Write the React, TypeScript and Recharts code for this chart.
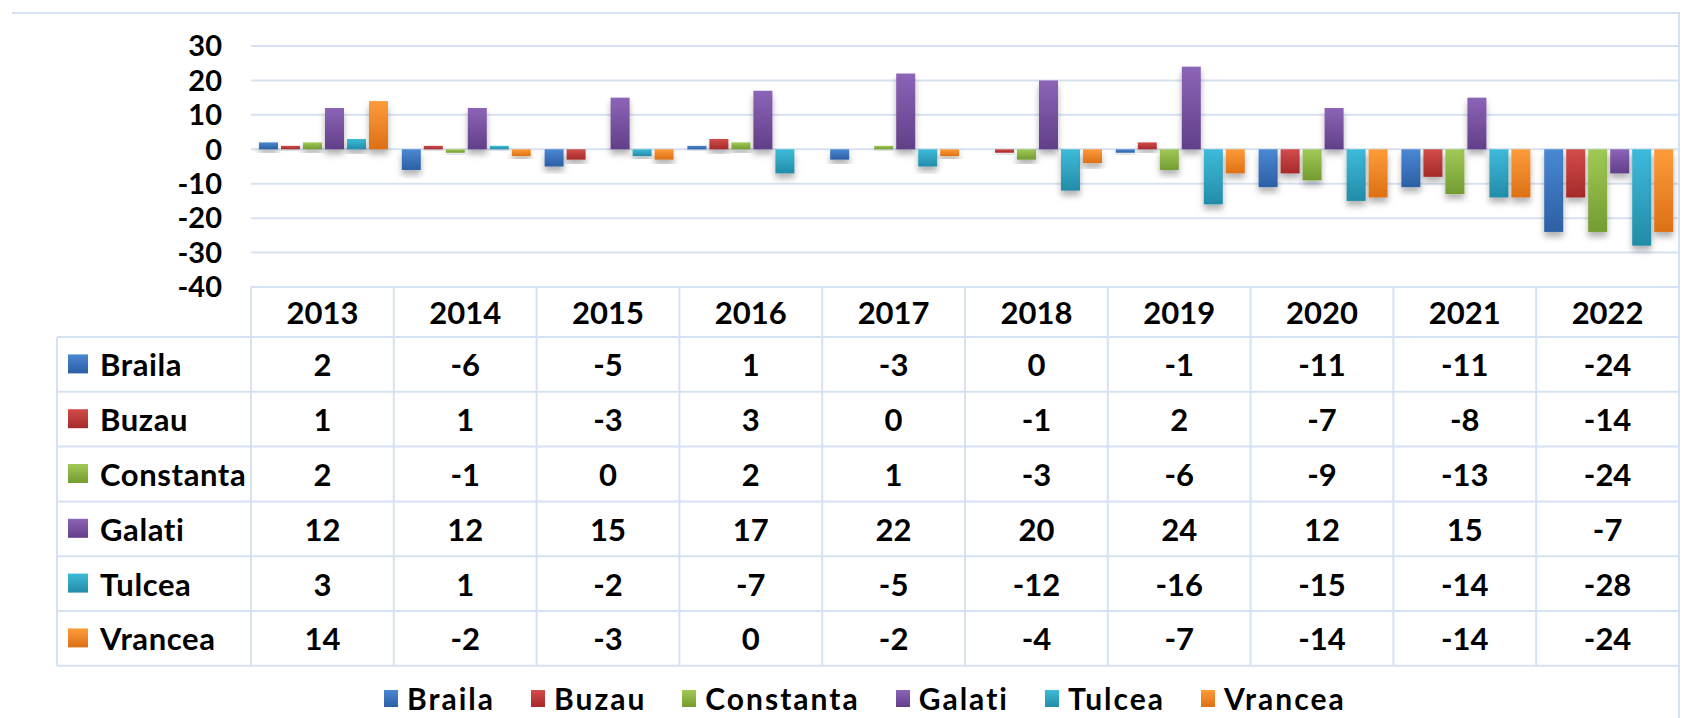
import React from 'react';
import { Bar, BarChart, CartesianGrid, Legend, XAxis, YAxis } from 'recharts';

const YEARS = ['2013', '2014', '2015', '2016', '2017', '2018', '2019', '2020', '2021', '2022'];

const BRAILA = [2, -6, -5, 1, -3, 0, -1, -11, -11, -24];
const BUZAU = [1, 1, -3, 3, 0, -1, 2, -7, -8, -14];
const CONSTANTA = [2, -1, 0, 2, 1, -3, -6, -9, -13, -24];
const GALATI = [12, 12, 15, 17, 22, 20, 24, 12, 15, -7];
const TULCEA = [3, 1, -2, -7, -5, -12, -16, -15, -14, -28];
const VRANCEA = [14, -2, -3, 0, -2, -4, -7, -14, -14, -24];

const Y_TICKS = [30, 20, 10, 0, -10, -20, -30, -40];

const SERIES = [
  { key: 'Braila', values: BRAILA, light: '#4a88d3', dark: '#2c5fa4' },
  { key: 'Buzau', values: BUZAU, light: '#d24c4a', dark: '#a52a2a' },
  { key: 'Constanta', values: CONSTANTA, light: '#a0c955', dark: '#739c31' },
  { key: 'Galati', values: GALATI, light: '#8c64b8', dark: '#623f88' },
  { key: 'Tulcea', values: TULCEA, light: '#3dbbd9', dark: '#238ca8' },
  { key: 'Vrancea', values: VRANCEA, light: '#fd9c3a', dark: '#dc7016' },
];

const chartData = YEARS.map((year, i) => {
  const row: Record<string, string | number> = { year };
  SERIES.forEach((s) => {
    row[s.key] = s.values[i];
  });
  return row;
});

const FONT = "Lato, 'Open Sans', sans-serif";
const LINE = '#d6e2f1';
const HEADER_H = 50;
const ROW_H = 54.8;
const TABLE_LEFT = 57;

const GradientBar = (props: any) => {
  const { x, y, width, height, fill } = props;
  if (!height) return null;
  const top = Math.min(y, y + height);
  return (
    <rect x={x} y={top} width={width} height={Math.abs(height)} fill={fill} filter="url(#barShadow)" />
  );
};

// data table under the plot, one column per x tick
const TableColumn = (props: any) => {
  const { x, y, payload } = props;
  const col = YEARS.indexOf(payload.value);
  const half = payload.offset || 71.4;
  const left = x - half;
  const right = x + half;
  const bottom = y + HEADER_H + ROW_H * SERIES.length;
  const textProps = {
    fontFamily: FONT,
    fontWeight: 700,
    fontSize: 31,
    fill: '#000',
    dominantBaseline: 'central' as const,
  };
  return (
    <g>
      <line x1={right} x2={right} y1={y} y2={bottom} stroke={LINE} strokeWidth={2} />
      {col === 0 && (
        <g>
          <line x1={left} x2={left} y1={y} y2={bottom} stroke={LINE} strokeWidth={2} />
          <line x1={TABLE_LEFT} x2={TABLE_LEFT} y1={y + HEADER_H} y2={bottom} stroke={LINE} strokeWidth={2} />
          {SERIES.map((s, i) => {
            const top = y + HEADER_H + i * ROW_H;
            return (
              <g key={s.key}>
                <line x1={TABLE_LEFT} x2={left} y1={top} y2={top} stroke={LINE} strokeWidth={2} />
                <rect x={TABLE_LEFT + 11} y={top + ROW_H / 2 - 10} width={20} height={19} fill={`url(#grad-${s.key})`} />
                <text x={TABLE_LEFT + 43} y={top + ROW_H / 2} textAnchor="start" letterSpacing={0.6} {...textProps}>
                  {s.key}
                </text>
              </g>
            );
          })}
          <line x1={TABLE_LEFT} x2={left} y1={bottom} y2={bottom} stroke={LINE} strokeWidth={2} />
        </g>
      )}
      <text x={x} y={y + HEADER_H / 2} textAnchor="middle" {...textProps}>
        {payload.value}
      </text>
      {SERIES.map((s, i) => {
        const top = y + HEADER_H + i * ROW_H;
        return (
          <g key={s.key}>
            <line x1={left} x2={right} y1={top} y2={top} stroke={LINE} strokeWidth={2} />
            <text x={x} y={top + ROW_H / 2} textAnchor="middle" {...textProps}>
              {s.values[col]}
            </text>
          </g>
        );
      })}
      <line x1={left} x2={right} y1={bottom} y2={bottom} stroke={LINE} strokeWidth={2} />
    </g>
  );
};

const renderLegend = () => (
  <div
    style={{
      display: 'flex',
      alignItems: 'center',
      fontFamily: FONT,
      fontWeight: 700,
      fontSize: 30,
      letterSpacing: 2,
      color: '#000',
      whiteSpace: 'nowrap',
    }}
  >
    {SERIES.map((s) => (
      <span key={s.key} style={{ display: 'flex', alignItems: 'center', marginRight: 36 }}>
        <span
          style={{
            width: 14,
            height: 17,
            background: `linear-gradient(${s.light}, ${s.dark})`,
            marginRight: 9,
          }}
        />
        {s.key}
      </span>
    ))}
  </div>
);

export default function App() {
  return (
    <div style={{ position: 'relative', width: 1690, height: 718, background: '#fff' }}>
      <style>{'body{margin:0;}'}</style>
      <div
        style={{
          position: 'absolute',
          left: 12,
          top: 12,
          width: 1666,
          height: 720,
          borderTop: `2px solid ${LINE}`,
          borderRight: `2px solid ${LINE}`,
        }}
      />
      <BarChart
        width={1690}
        height={718}
        data={chartData}
        margin={{ top: 46, right: 11, bottom: 0, left: 0 }}
        barCategoryGap={8}
        barGap={3}
        style={{ position: 'absolute', left: 0, top: 0 }}
      >
        <defs>
          <filter id="barShadow" x="-40%" y="-40%" width="180%" height="180%">
            <feDropShadow dx="0" dy="5" stdDeviation="3" floodColor="#000" floodOpacity="0.3" />
          </filter>
          {SERIES.map((s) => (
            <linearGradient key={s.key} id={`grad-${s.key}`} x1="0" y1="0" x2="0" y2="1">
              <stop offset="0%" stopColor={s.light} />
              <stop offset="100%" stopColor={s.dark} />
            </linearGradient>
          ))}
        </defs>
        <CartesianGrid vertical={false} stroke={LINE} strokeWidth={2} />
        <XAxis
          dataKey="year"
          height={431}
          axisLine={false}
          tickLine={false}
          tickSize={0}
          tickMargin={0}
          interval={0}
          tick={<TableColumn />}
        />
        <YAxis
          width={251}
          domain={[-40, 30]}
          ticks={Y_TICKS}
          interval={0}
          axisLine={false}
          tickLine={false}
          tickSize={0}
          tickMargin={29}
          tick={{ fill: '#000', fontSize: 29, fontWeight: 700, fontFamily: FONT }}
        />
        <Legend
          verticalAlign="middle"
          align="center"
          content={renderLegend}
          wrapperStyle={{ left: 384, top: 680, width: 'auto' }}
        />
        {SERIES.map((s) => (
          <Bar
            key={s.key}
            dataKey={s.key}
            fill={`url(#grad-${s.key})`}
            shape={<GradientBar />}
            isAnimationActive={false}
          />
        ))}
      </BarChart>
    </div>
  );
}
